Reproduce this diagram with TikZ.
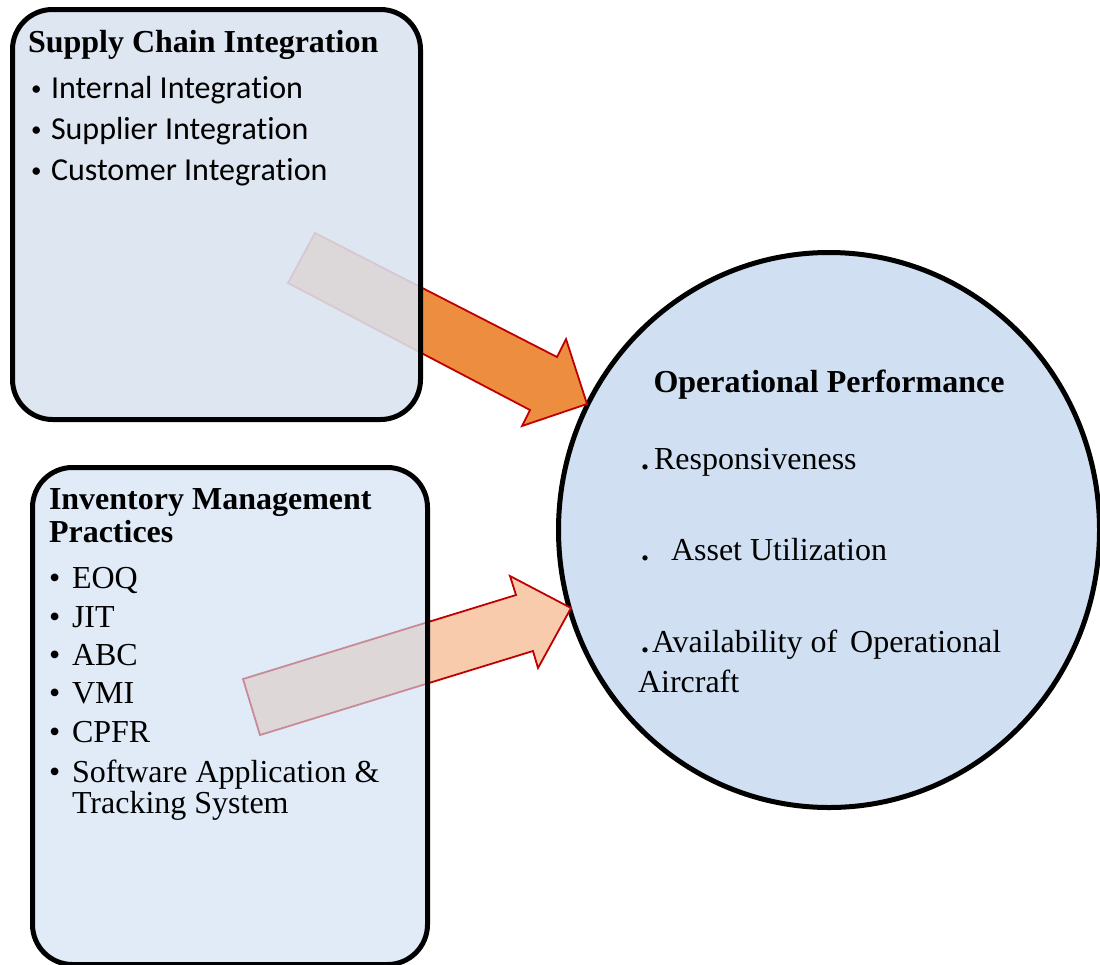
\documentclass[tikz,border=0pt]{standalone}
\usepackage{fontspec}
\setmainfont{Liberation Serif}
\newfontfamily\calibrifont[Ligatures={NoCommon,NoRare}]{Carlito}
\usetikzlibrary{shapes.geometric}
\definecolor{orangeA}{RGB}{237,141,64}
\definecolor{peachA}{RGB}{248,203,173}
\definecolor{arrowred}{RGB}{192,0,0}
\definecolor{boxonefill}{RGB}{218,227,239}
\definecolor{boxtwofill}{RGB}{206,223,243}
\definecolor{circfill}{RGB}{208,224,242}
\begin{document}
\begin{tikzpicture}[x=1pt,y=-1pt,
  panel/.style={draw=black, line width=5pt, rounded corners=40pt, rectangle, inner sep=0pt, outer sep=0pt},
  blockarrow/.style={draw=arrowred, line width=1.8pt, line join=miter},
  txt/.style={inner sep=0pt, outer sep=0pt, anchor=base west, font=\fontsize{32}{38}\selectfont},
  ctxt/.style={txt, anchor=base},
  sans/.style={txt, font=\calibrifont\fontsize{32}{38}\selectfont},
  sansbullet/.style={txt, font=\calibrifont\fontsize{21}{24}\selectfont}]
\useasboundingbox (0,0) rectangle (1100,964);
\clip (0,0) rectangle (1100,964);

% circle
\node[draw=black, line width=5pt, fill=circfill, ellipse, minimum width=541pt, minimum height=555pt, inner sep=0pt] (circ) at (829,530) {};

% block arrows
\coordinate (a1tail) at (301.5,258);
\coordinate (a1tip) at (587,404);
\filldraw[blockarrow, fill=orangeA] (315,233) -- (557,357) -- (566,339) -- (a1tip) -- (522,426) -- (530,410) -- (288,283) -- cycle;
\coordinate (a2tail) at (251.5,707);
\coordinate (a2tip) at (571,608);
\filldraw[blockarrow, fill=peachA] (243,679) -- (516,595) -- (510,576) -- (a2tip) -- (538,668) -- (533,651) -- (260,735) -- cycle;

% panels (semi-transparent, drawn over the arrow tails)
\node[panel, fill=boxonefill, fill opacity=0.88, minimum width=408pt, minimum height=410pt] (sci) at (216.5,214.5) {};
\node[panel, fill=boxtwofill, fill opacity=0.62, minimum width=395pt, minimum height=497pt] (imp) at (230,716) {};

% Supply Chain Integration texts
\node[txt, font=\bfseries\fontsize{32}{38}\selectfont] (sciT) at (28,52) {Supply Chain Integration};
\node[sansbullet] (sb1) at (31,95) {•};
\node[sans] (s1) at (51,98) {Internal Integration};
\node[sansbullet] (sb2) at (31,136) {•};
\node[sans] (s2) at (51,139) {Supplier Integration};
\node[sansbullet] (sb3) at (31,177) {•};
\node[sans] (s3) at (51,180) {Customer Integration};

% Inventory Management Practices texts
\node[txt, font=\bfseries\fontsize{32}{38}\selectfont] (impT1) at (49,509) {Inventory Management};
\node[txt, font=\bfseries\fontsize{32}{38}\selectfont] (impT2) at (49,542) {Practices};
\node[txt] (ib1) at (49,588) {•};
\node[txt] (i1) at (72,588) {EOQ};
\node[txt] (ib2) at (49,627) {•};
\node[txt] (i2) at (72,627) {JIT};
\node[txt] (ib3) at (49,665) {•};
\node[txt] (i3) at (72,665) {ABC};
\node[txt] (ib4) at (49,703) {•};
\node[txt] (i4) at (72,703) {VMI};
\node[txt] (ib5) at (49,742) {•};
\node[txt] (i5) at (72,742) {CPFR};
\node[txt] (ib6) at (49,782) {•};
\node[txt] (i6) at (72,782) {Software Application \&};
\node[txt] (i6b) at (72,813) {Tracking System};

% Operational Performance texts
\node[ctxt, font=\bfseries\fontsize{32}{38}\selectfont] (opT) at (829,392) {Operational Performance};
\node[txt, font=\bfseries\fontsize{32}{38}\selectfont] (od1) at (641,469) {.};
\node[txt] (o1) at (654,469) {Responsiveness};
\node[txt, font=\bfseries\fontsize{32}{38}\selectfont] (od2) at (641,560) {.};
\node[txt] (o2) at (671,560) {Asset Utilization};
\node[txt, font=\bfseries\fontsize{32}{38}\selectfont] (od3) at (641,652) {.};
\node[txt] (o3) at (652,652) {Availability of\hspace{13pt}Operational};
\node[txt] (o3b) at (638,692) {Aircraft};
\end{tikzpicture}
\end{document}
